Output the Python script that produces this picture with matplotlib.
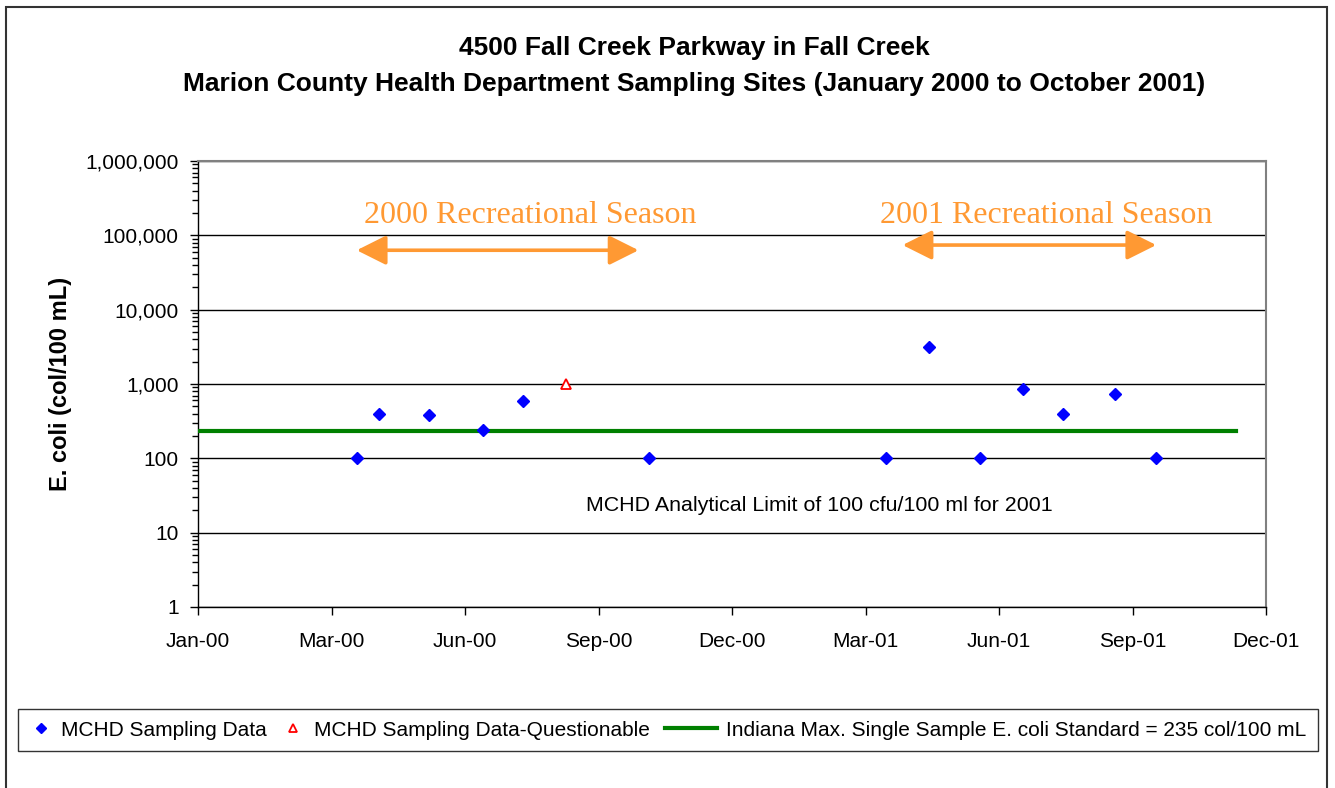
import matplotlib

matplotlib.use("Agg")

import matplotlib.pyplot as plt
import matplotlib.dates as mdates
import pandas as pd
from matplotlib.ticker import FuncFormatter, LogLocator, NullFormatter
from matplotlib.patches import Rectangle
from matplotlib.legend_handler import HandlerLine2D

plt.rcParams["font.family"] = ["Liberation Sans", "DejaVu Sans"]

# values
sample_dates = ["2000-04-17", "2000-05-02", "2000-06-05", "2000-07-11", "2000-08-07",
                "2000-10-31", "2001-04-09", "2001-05-08", "2001-06-11", "2001-07-10",
                "2001-08-06", "2001-09-10", "2001-10-08"]
sample_values = [100, 400, 380, 240, 590, 100, 100, 3100, 100, 850, 400, 730, 100]

questionable_dates = ["2000-09-05"]
questionable_values = [1000]

standard_dates = ["2000-01-01", "2001-12-01"]
standard_values = [235, 235]

season_2000 = ["2000-04-17", "2000-10-24"]
season_2001 = ["2001-04-20", "2001-10-08"]

x_start = "2000-01-01"
x_step_days = 90
n_steps = 8

orange = "#FF9933"


class WideLine(HandlerLine2D):
    # Excel-style legend: the line sample is wider than the marker samples
    def legend_artist(self, legend, orig_handle, fontsize, handlebox):
        handlebox.width = 37
        return super().legend_artist(legend, orig_handle, fontsize, handlebox)


if __name__ == "__main__":
    W, H = 1335, 788
    fig = plt.figure(figsize=(W / 100, H / 100), dpi=100)

    # outer chart border
    fig.patches.append(Rectangle((6 / W, -0.05), 1321 / W, 1 - 7 / H + 0.05,
                                 transform=fig.transFigure, fill=False,
                                 edgecolor="#333333", lw=1.5))

    ax = fig.add_axes([198 / W, 1 - 607 / H, 1068 / W, 446 / H])

    sd = pd.to_datetime(sample_dates)
    qd = pd.to_datetime(questionable_dates)
    std = pd.to_datetime(standard_dates)

    ax.plot(std, standard_values, color="#008000", lw=3, zorder=3,
            label="Indiana Max. Single Sample E. coli Standard = 235 col/100 mL")
    ax.plot(sd, sample_values, ls="none", marker="D", ms=5.8, color="blue",
            zorder=4, label="MCHD Sampling Data")
    ax.plot(qd, questionable_values, ls="none", marker="^", ms=7, mfc="white",
            mec="red", mew=1.3, zorder=4, label="MCHD Sampling Data-Questionable")

    ax.set_yscale("log")
    ax.set_ylim(1, 1e6)
    ax.yaxis.set_major_locator(LogLocator(base=10, numticks=10))
    ax.yaxis.set_minor_locator(LogLocator(base=10, subs=range(2, 10), numticks=20))
    ax.yaxis.set_major_formatter(FuncFormatter(lambda v, p: f"{v:,.0f}"))
    ax.yaxis.set_minor_formatter(NullFormatter())

    t0 = pd.Timestamp(x_start)
    ticks = [t0 + pd.Timedelta(days=x_step_days * i) for i in range(n_steps + 1)]
    ax.set_xlim(ticks[0], ticks[-1])
    ax.set_xticks(ticks)
    ax.set_xticklabels([t.strftime("%b-%y") for t in ticks])
    ax.xaxis.set_minor_locator(matplotlib.ticker.NullLocator())

    ax.tick_params(axis="x", direction="out", length=6, width=1, pad=12, labelsize=15)
    ax.tick_params(axis="y", which="major", direction="out", length=6, width=1,
                   pad=8, labelsize=15)
    ax.tick_params(axis="y", which="minor", direction="out", length=4, width=1)

    ax.grid(axis="y", which="major", color="black", lw=1)
    ax.set_axisbelow(True)
    for s in ("top", "right"):
        ax.spines[s].set_color("#808080")
        ax.spines[s].set_linewidth(1.5)
    for s in ("left", "bottom"):
        ax.spines[s].set_color("black")
        ax.spines[s].set_linewidth(1)

    ax.set_ylabel("E. coli (col/100 mL)", fontsize=17, fontweight="bold")
    ax.yaxis.set_label_coords(-0.118, 0.5)

    # recreational season arrows and labels
    arrow_props = dict(arrowstyle="<|-|>,head_length=0.9,head_width=0.45",
                       color=orange, lw=2.6, shrinkA=0, shrinkB=0, mutation_scale=20)
    for season, yv in ((season_2000, 63000), (season_2001, 74000)):
        a, b = mdates.date2num(pd.to_datetime(season))
        ax.annotate("", xy=(b, yv), xytext=(a, yv), arrowprops=arrow_props)
    ax.text(mdates.date2num(pd.Timestamp("2000-08-12")), 1.85e5, "2000 Recreational Season",
            color=orange, fontsize=23, family="Liberation Serif", ha="center", va="center")
    ax.text(mdates.date2num(pd.Timestamp("2001-07-26")), 1.85e5, "2001 Recreational Season",
            color=orange, fontsize=23, family="Liberation Serif", ha="center", va="center")

    ax.text(mdates.date2num(pd.Timestamp("2001-02-23")), 23.5,
            "MCHD Analytical Limit of 100 cfu/100 ml for 2001",
            fontsize=15.4, ha="center", va="center")

    fig.text(694 / W, 1 - 66 / H,
             "4500 Fall Creek Parkway in Fall Creek\n"
             "Marion County Health Department Sampling Sites (January 2000 to October 2001)",
             fontsize=19, fontweight="bold", ha="center", va="center", linespacing=1.6)

    handles, labels = ax.get_legend_handles_labels()
    order = [1, 2, 0]
    leg = fig.legend([handles[i] for i in order], [labels[i] for i in order],
                     loc="center", bbox_to_anchor=(668 / W, 1 - 730 / H), ncol=3,
                     fontsize=15, frameon=True, fancybox=False, edgecolor="black",
                     handlelength=1.05, handletextpad=0.45, columnspacing=0.75,
                     borderpad=0.55, markerscale=0.85,
                     handler_map={handles[0]: WideLine()})
    leg.get_frame().set_linewidth(1)

    fig.savefig("out.png", dpi=100)
